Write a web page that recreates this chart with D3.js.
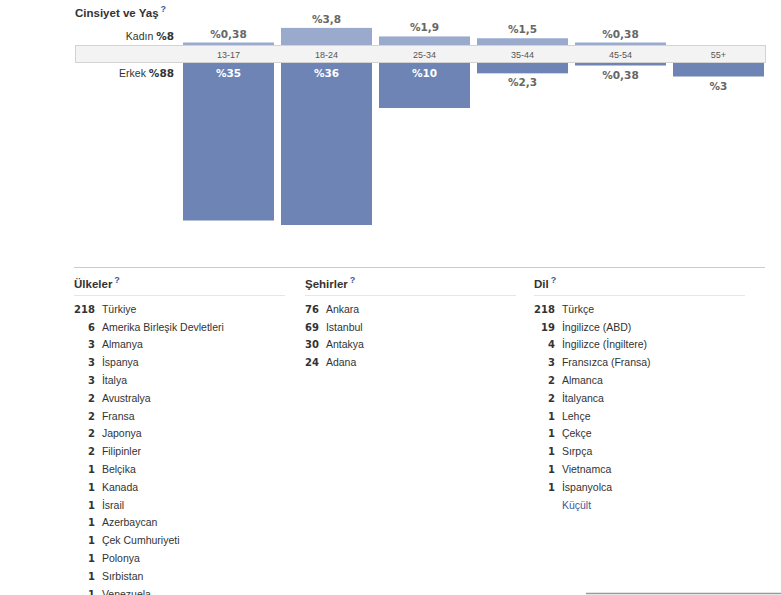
<!DOCTYPE html>
<html>
<head>
<meta charset="utf-8">
<script src="https://cdn.jsdelivr.net/npm/d3@7"></script>
<style>
  body { margin: 0; background: #fff; }
  svg { display: block; }
</style>
</head>
<body>
<svg id="chart" width="781" height="595"></svg>
<script>
// age groups and gender shares (percent)
var ageGroups = ['13-17', '18-24', '25-34', '35-44', '45-54', '55+']
var femaleShare = [0.38, 3.8, 1.9, 1.5, 0.38, 0]
var maleShare = [35, 36, 10, 2.3, 0.38, 3]
var femaleTotal = '%8'
var maleTotal = '%88'

var countries = ['Türkiye', 'Amerika Birleşik Devletleri', 'Almanya', 'İspanya', 'İtalya', 'Avustralya',
  'Fransa', 'Japonya', 'Filipinler', 'Belçika', 'Kanada', 'İsrail', 'Azerbaycan', 'Çek Cumhuriyeti',
  'Polonya', 'Sırbistan', 'Venezuela']
var countryCounts = [218, 6, 3, 3, 3, 2, 2, 2, 2, 1, 1, 1, 1, 1, 1, 1, 1]

var cities = ['Ankara', 'Istanbul', 'Antakya', 'Adana']
var cityCounts = [76, 69, 30, 24]

var languages = ['Türkçe', 'İngilizce (ABD)', 'İngilizce (İngiltere)', 'Fransızca (Fransa)', 'Almanca',
  'İtalyanca', 'Lehçe', 'Çekçe', 'Sırpça', 'Vietnamca', 'İspanyolca']
var languageCounts = [218, 19, 4, 3, 2, 2, 1, 1, 1, 1, 1]

var sansFont = '"Liberation Sans", Arial, sans-serif'
var boldFont = '"DejaVu Sans", Verdana, sans-serif'
var darkBlue = '#6d84b4'
var lightBlue = '#9aaacd'
var linkBlue = '#3b5998'

var svg = d3.select('#chart')

function pct (v) {
  return '%' + String(v).replace('.', ',')
}

// --- gender / age chart ---
var bandTop = 45, bandBottom = 63

var x = d3.scaleBand()
  .domain(ageGroups)
  .range([183, 764])
  .paddingInner(7 / 98)
  .paddingOuter(0)

var h = d3.scaleLinear().domain([0, 36]).range([0, 162])
function barH (v) {
  if (!v) return 0
  return Math.max(2.5, h(v))
}

var title = svg.append('text')
  .attr('x', 75).attr('y', 17)
  .attr('font-family', sansFont).attr('font-size', 11.5).attr('font-weight', 'bold')
  .attr('fill', '#333')
title.append('tspan').text('Cinsiyet ve Yaş')
title.append('tspan').attr('dx', 2).attr('dy', -5).attr('font-size', 9)
  .attr('fill', linkBlue).text('?')

// grey strip with age labels
svg.append('rect')
  .attr('x', 75.5).attr('y', bandTop + 0.5)
  .attr('width', 690).attr('height', bandBottom - bandTop - 1)
  .attr('fill', '#f3f3f3')
  .attr('stroke', '#d3d3d3')

svg.append('g')
  .selectAll('text')
  .data(ageGroups)
  .enter().append('text')
  .attr('x', function (d) { return x(d) + x.bandwidth() / 2 })
  .attr('y', 58)
  .attr('text-anchor', 'middle')
  .attr('font-family', sansFont).attr('font-size', 9)
  .attr('fill', '#555')
  .text(function (d) { return d })

// female bars (above)
svg.append('g')
  .selectAll('rect')
  .data(femaleShare)
  .enter().append('rect')
  .attr('x', function (d, i) { return x(ageGroups[i]) })
  .attr('y', function (d) { return bandTop - barH(d) })
  .attr('width', x.bandwidth())
  .attr('height', function (d) { return barH(d) })
  .attr('fill', lightBlue)

svg.append('g')
  .selectAll('text')
  .data(femaleShare.filter(function (d) { return d > 0 }))
  .enter().append('text')
  .attr('x', function (d, i) { return x(ageGroups[i]) + x.bandwidth() / 2 })
  .attr('y', function (d) { return bandTop - barH(d) - 5 })
  .attr('text-anchor', 'middle')
  .attr('font-family', boldFont).attr('font-size', 10.5).attr('font-weight', 'bold')
  .attr('fill', '#666')
  .text(pct)

// male bars (below)
svg.append('g')
  .selectAll('rect')
  .data(maleShare)
  .enter().append('rect')
  .attr('x', function (d, i) { return x(ageGroups[i]) })
  .attr('y', bandBottom)
  .attr('width', x.bandwidth())
  .attr('height', function (d) { return barH(d) })
  .attr('fill', darkBlue)

svg.append('g')
  .selectAll('text')
  .data(maleShare)
  .enter().append('text')
  .attr('x', function (d, i) { return x(ageGroups[i]) + x.bandwidth() / 2 })
  .attr('y', function (d) {
    return barH(d) > 30 ? bandBottom + 14 : bandBottom + barH(d) + 13
  })
  .attr('text-anchor', 'middle')
  .attr('font-family', boldFont).attr('font-size', 10.5).attr('font-weight', 'bold')
  .attr('fill', function (d) { return barH(d) > 30 ? '#fff' : '#666' })
  .text(pct)

// side labels
var sides = [['Kadın', femaleTotal, 40], ['Erkek', maleTotal, 77]]
sides.forEach(function (s) {
  var t = svg.append('text')
    .attr('x', 174).attr('y', s[2])
    .attr('text-anchor', 'end')
    .attr('fill', '#333')
  t.append('tspan').attr('font-family', sansFont).attr('font-size', 10.5).text(s[0] + ' ')
  t.append('tspan').attr('font-family', boldFont).attr('font-size', 10.5)
    .attr('font-weight', 'bold').text(s[1])
})

// --- lists ---
svg.append('line')
  .attr('x1', 74).attr('x2', 765)
  .attr('y1', 267.5).attr('y2', 267.5)
  .attr('stroke', '#ccc')

var rowY = d3.scaleLinear().domain([0, 1]).range([312.7, 330.5])

function drawList (x0, heading, names, counts, more) {
  var g = svg.append('g')
  var ht = g.append('text')
    .attr('x', x0).attr('y', 288)
    .attr('font-family', sansFont).attr('font-size', 11.5).attr('font-weight', 'bold')
    .attr('fill', '#333')
  ht.append('tspan').text(heading)
  ht.append('tspan').attr('dx', 2).attr('dy', -5).attr('font-size', 9)
    .attr('fill', linkBlue).text('?')

  g.append('line')
    .attr('x1', x0).attr('x2', x0 + 211)
    .attr('y1', 295.5).attr('y2', 295.5)
    .attr('stroke', '#e6e6e6')

  var nums = g.append('g')
    .selectAll('text')
    .data(counts)
    .enter().append('text')
    .attr('y', function (d, i) { return rowY(i) })
    .attr('font-family', boldFont).attr('font-size', 10).attr('font-weight', 'bold')
    .attr('fill', '#333')
    .attr('text-anchor', 'end')
    .text(function (d) { return d })

  var widest = d3.max(nums.nodes(), function (n) { return n.getComputedTextLength() })
  nums.attr('x', x0 + widest)

  g.append('g')
    .selectAll('text')
    .data(names)
    .enter().append('text')
    .attr('x', x0 + widest + 7)
    .attr('y', function (d, i) { return rowY(i) })
    .attr('font-family', sansFont).attr('font-size', 10.5)
    .attr('fill', '#333')
    .text(function (d) { return d })

  if (more) {
    g.append('text')
      .attr('x', x0 + widest + 7)
      .attr('y', rowY(names.length))
      .attr('font-family', sansFont).attr('font-size', 10.5)
      .attr('fill', linkBlue)
      .text(more)
  }
}

drawList(74, 'Ülkeler', countries, countryCounts)
drawList(305, 'Şehirler', cities, cityCounts)
drawList(534, 'Dil', languages, languageCounts, 'Küçült')

// edge of the next block
svg.append('line')
  .attr('x1', 586).attr('x2', 781)
  .attr('y1', 593.5).attr('y2', 593.5)
  .attr('stroke', '#999').attr('stroke-width', 1.5)
</script>
</body>
</html>
